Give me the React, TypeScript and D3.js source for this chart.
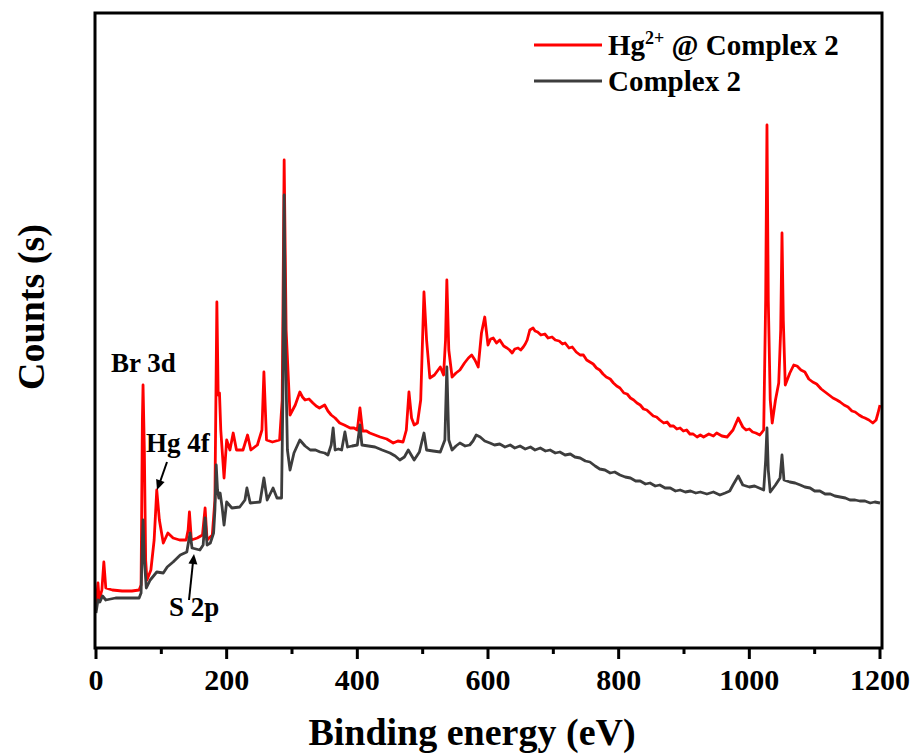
import React from 'react'
import * as d3 from 'd3'

// binding energy (eV), counts (arbitrary units)
const hgComplexSpectrum: [number, number][] = [
  [0, 44], [3, 66], [5, 49], [9, 59], [12, 87], [15, 61], [25, 59], [40, 58],
  [55, 58], [66, 59], [69, 64], [71, 229], [72, 264], [74, 199], [76, 89],
  [78, 69], [84, 79], [89, 109], [93, 159], [97, 129], [103, 106], [110, 116],
  [118, 111], [128, 109], [138, 109], [141, 119], [143, 137], [146, 109],
  [155, 111], [163, 114], [167, 141], [170, 109], [178, 114], [182, 149],
  [185, 347], [187, 254], [189, 256], [191, 219], [196, 171], [200, 209],
  [205, 199], [210, 216], [215, 199], [225, 199], [232, 214], [237, 199],
  [247, 204], [254, 219], [257, 277], [261, 209], [270, 207], [281, 209],
  [285, 249], [288, 489], [291, 319], [297, 234], [305, 244], [312, 257],
  [316, 252], [320, 249], [326, 250], [332, 246], [337, 243], [342, 241],
  [350, 244], [355, 238], [360, 234], [366, 231], [373, 226], [380, 224],
  [389, 221], [395, 221], [400, 219], [404, 241], [408, 218], [414, 218],
  [419, 216], [427, 214], [435, 212], [445, 210], [455, 206], [462, 208],
  [470, 207], [475, 219], [479, 257], [483, 231], [487, 224],
  [492, 226], [497, 249], [502, 357], [506, 309], [511, 271], [518, 274],
  [527, 282], [532, 274], [535, 309], [537, 369], [540, 299], [545, 272],
  [551, 276], [557, 279], [564, 286], [570, 291], [575, 294], [580, 289],
  [585, 282], [590, 316], [595, 332], [600, 304], [604, 310], [608, 311],
  [613, 306], [618, 309], [624, 303], [629, 301], [633, 299], [637, 296],
  [641, 300], [646, 301], [650, 299], [654, 302], [657, 305], [660, 309],
  [664, 319], [669, 321], [672, 318], [676, 317], [681, 314], [687, 315],
  [692, 311], [698, 312], [703, 309], [709, 308], [714, 305], [718, 306],
  [724, 301], [729, 302], [735, 297], [741, 294], [746, 294], [751, 289],
  [756, 287], [761, 285], [766, 281], [771, 279], [776, 275], [781, 272],
  [787, 270], [792, 266], [797, 263], [802, 261], [808, 256], [813, 255],
  [818, 251], [823, 249], [828, 246], [833, 244], [838, 240], [843, 239],
  [848, 236], [853, 233], [858, 232], [863, 229], [869, 226], [874, 227],
  [879, 223], [884, 223], [889, 220], [894, 221], [899, 218], [904, 219],
  [909, 215], [914, 215], [920, 212], [925, 214], [930, 212], [938, 215],
  [945, 213], [950, 216], [958, 213], [966, 212], [975, 219], [983, 231],
  [990, 222], [995, 219], [1000, 220], [1005, 217], [1010, 216], [1016, 214],
  [1022, 219], [1025, 349], [1027, 524], [1029, 349], [1032, 249],
  [1035, 226], [1040, 249], [1045, 266], [1048, 319], [1050, 416],
  [1052, 329], [1055, 264], [1062, 276], [1068, 284], [1073, 283],
  [1079, 279], [1085, 277], [1091, 270], [1097, 267], [1103, 265],
  [1110, 260], [1116, 257], [1122, 254], [1128, 251], [1134, 249],
  [1139, 247], [1145, 244], [1151, 242], [1157, 238], [1162, 237],
  [1168, 234], [1173, 232], [1177, 231], [1183, 229], [1189, 226],
  [1194, 229], [1197, 236], [1200, 244],
]

const complexSpectrum: [number, number][] = [
  [0, 36], [3, 49], [6, 47], [10, 53], [15, 49], [30, 51], [50, 51], [66, 51],
  [69, 56], [71, 109], [72, 129], [74, 89], [77, 61], [83, 69], [93, 77],
  [103, 76], [109, 82], [118, 87], [129, 94], [139, 97], [144, 116],
  [147, 101], [159, 99], [164, 104], [167, 131], [170, 104], [175, 106],
  [180, 116], [182, 139], [184, 184], [186, 159], [188, 151], [190, 156],
  [193, 142], [196, 124], [200, 147], [208, 141], [220, 142], [228, 149],
  [231, 161], [236, 146], [251, 147], [257, 171], [262, 149], [271, 161],
  [277, 151], [284, 151], [286, 249], [288, 454], [290, 299], [293, 199],
  [297, 179], [303, 196], [312, 209], [320, 203], [328, 199], [336, 199],
  [343, 197], [350, 196], [355, 194], [360, 204], [363, 221], [366, 199],
  [371, 200], [376, 199], [381, 217], [385, 202], [392, 203],
  [400, 204], [404, 224], [407, 204], [417, 203], [427, 202], [438, 199],
  [450, 196], [458, 193], [465, 189], [472, 192],
  [478, 199], [487, 189], [495, 197], [502, 216], [506, 199], [516, 198],
  [527, 197], [534, 209], [537, 282], [540, 209], [545, 199], [551, 203],
  [557, 206], [565, 203], [572, 204], [577, 208], [582, 214], [588, 212],
  [595, 208], [603, 206], [610, 204], [618, 205], [626, 202], [634, 204],
  [641, 201], [649, 203], [657, 200], [665, 202], [672, 199], [680, 201],
  [688, 198], [695, 199], [703, 196], [710, 197], [718, 194], [726, 195],
  [733, 192], [741, 191], [749, 188], [756, 187], [764, 183], [771, 180],
  [779, 179], [787, 176], [794, 177], [802, 174], [810, 172], [818, 171],
  [826, 168], [833, 168], [841, 165], [848, 166], [856, 163], [863, 164],
  [871, 161], [879, 161], [887, 158], [894, 159], [902, 157], [910, 158],
  [918, 156], [925, 157], [935, 155], [945, 157], [955, 154], [963, 156],
  [970, 158], [975, 164], [983, 173], [990, 164],
  [1000, 162], [1008, 163], [1015, 161], [1022, 159], [1025, 189], [1027, 221],
  [1029, 179], [1032, 157], [1040, 164], [1047, 171], [1050, 194],
  [1053, 169], [1062, 167], [1070, 166], [1078, 164], [1085, 162],
  [1093, 161], [1100, 158], [1108, 158], [1116, 155], [1124, 155],
  [1131, 153], [1139, 152], [1147, 151], [1154, 149], [1162, 149],
  [1169, 148], [1177, 148], [1185, 146], [1192, 147], [1200, 146],
]

const majorTicks = [0, 200, 400, 600, 800, 1000, 1200]
const minorTicks = [100, 300, 500, 700, 900, 1100]

const font = '"Liberation Serif", "Times New Roman", serif'
const red = '#ff0000'
const dark = '#3d3d3d'

const App = () => {
  const width = 916
  const height = 754
  const left = 95
  const right = 882
  const top = 13
  const bottom = 648

  const x = d3.scaleLinear().domain([0, 1200]).range([96, 880])
  const y = d3.scaleLinear().domain([0, 636]).range([649, 13])

  const line = d3
    .line<[number, number]>()
    .x(d => x(d[0]))
    .y(d => y(d[1]))

  const arrowHead = (x1, y1, x2, y2) => {
    const a = Math.atan2(y2 - y1, x2 - x1)
    const len = 10
    const w = 4.5
    const bx = x2 - len * Math.cos(a)
    const by = y2 - len * Math.sin(a)
    const px = -Math.sin(a) * w
    const py = Math.cos(a) * w
    return `M${x2},${y2}L${bx + px},${by + py}L${bx - px},${by - py}Z`
  }

  return (
    <svg
      width={width}
      height={height}
      style={{ position: 'absolute', left: 0, top: 0, background: '#fff' }}
      fontFamily={font}
      fontWeight="bold"
    >
      <path d={line(hgComplexSpectrum)} fill="none" stroke={red} strokeWidth={2.8} strokeLinejoin="round" />
      <path d={line(complexSpectrum)} fill="none" stroke={dark} strokeWidth={2.8} strokeLinejoin="round" />

      <rect x={left} y={top} width={right - left} height={bottom - top} fill="none" stroke="#000" strokeWidth={3} />

      {majorTicks.map(t => (
        <g key={t}>
          <line x1={x(t)} x2={x(t)} y1={bottom} y2={bottom + 11} stroke="#000" strokeWidth={3} />
          <text x={x(t)} y={690} textAnchor="middle" fontSize={30}>{t}</text>
        </g>
      ))}
      {minorTicks.map(t => (
        <line key={t} x1={x(t)} x2={x(t)} y1={bottom} y2={bottom + 6} stroke="#000" strokeWidth={3} />
      ))}

      <text x={472} y={745} textAnchor="middle" fontSize={38}>Binding energy (eV)</text>
      <text transform="translate(44,307) rotate(-90)" textAnchor="middle" fontSize={38}>Counts (s)</text>

      <text x={111} y={372} fontSize={27}>Br 3d</text>
      <text x={146} y={452} fontSize={27}>Hg 4f</text>
      <text x={169} y={616} fontSize={27}>S 2p</text>
      <line x1={167} y1={462} x2={160} y2={482} stroke="#000" strokeWidth={2} />
      <path d={arrowHead(167, 462, 157, 490)} fill="#000" />
      <line x1={189} y1={600} x2={193} y2={562} stroke="#000" strokeWidth={2} />
      <path d={arrowHead(189, 600, 194, 554)} fill="#000" />

      <line x1={534} x2={602} y1={45} y2={45} stroke={red} strokeWidth={3} />
      <text x={608} y={55} fontSize={29}>
        Hg<tspan dy={-11} fontSize={18}>2+</tspan>
        <tspan dy={11}> @ Complex 2</tspan>
      </text>
      <line x1={534} x2={602} y1={81} y2={81} stroke={dark} strokeWidth={3} />
      <text x={608} y={91} fontSize={29}>Complex 2</text>
    </svg>
  )
}

export default App
